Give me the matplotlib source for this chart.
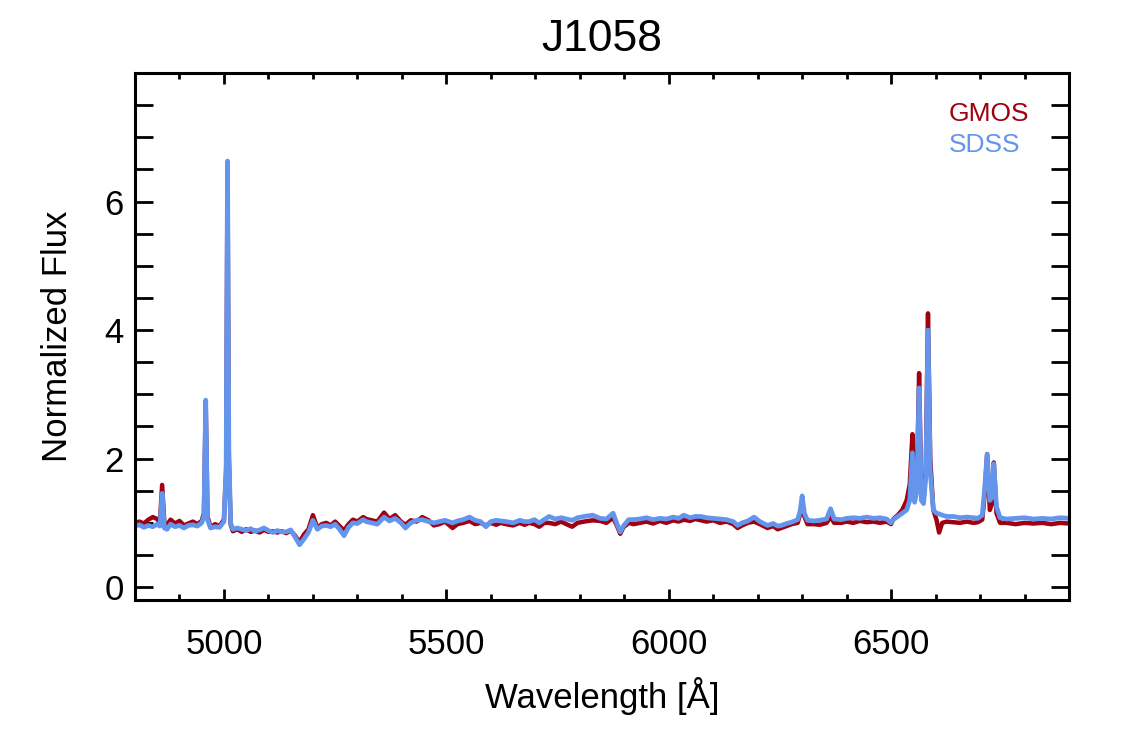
import matplotlib
matplotlib.use("Agg")
import matplotlib.pyplot as plt
from matplotlib.ticker import MultipleLocator

plt.rcParams['font.family'] = ['Liberation Sans', 'DejaVu Sans']

# wavelength grid [A] shared by both spectra
wave = [4800, 4810, 4820, 4830, 4840, 4850, 4856, 4861, 4866, 4872,
        4880, 4890, 4900, 4910, 4920, 4930, 4940, 4950, 4955, 4959,
        4963, 4970, 4980, 4990, 5000, 5005, 5008, 5011, 5015, 5020,
        5030, 5040, 5050, 5060, 5070, 5080, 5090, 5100, 5110, 5120,
        5130, 5140, 5150, 5160, 5170, 5180, 5190, 5200, 5210, 5220,
        5230, 5240, 5250, 5260, 5270, 5280, 5290, 5300, 5313, 5320,
        5332, 5345, 5360, 5372, 5385, 5398, 5408, 5420, 5433, 5446,
        5460, 5472, 5484, 5497, 5514, 5525, 5538, 5552, 5565, 5577,
        5589, 5600, 5612, 5622, 5634, 5650, 5665, 5676, 5686, 5698,
        5709, 5720, 5731, 5745, 5758, 5770, 5783, 5795, 5810, 5829,
        5846, 5860, 5875, 5884, 5891, 5898, 5910, 5921, 5935, 5950,
        5965, 5980, 5995, 6010, 6022, 6034, 6048, 6060, 6072, 6085,
        6100, 6115, 6130, 6145, 6155, 6165, 6178, 6192, 6205, 6222,
        6235, 6245, 6253, 6265, 6276, 6290, 6296, 6300, 6305, 6312,
        6327, 6340, 6355, 6364, 6372, 6388, 6400, 6415, 6430, 6445,
        6460, 6475, 6490, 6500, 6505, 6515, 6525, 6535, 6542, 6548,
        6553, 6558, 6563, 6568, 6573, 6578, 6583, 6588, 6595, 6602,
        6608, 6615, 6625, 6640, 6655, 6670, 6685, 6695, 6705, 6710,
        6716, 6722, 6727, 6731, 6737, 6745, 6760, 6780, 6800, 6820,
        6840, 6860, 6880, 6900]

gmos = [1.00, 1.02, 0.99, 1.05, 1.09, 1.06, 1.00, 1.59, 1.00, 0.97,
        1.05, 0.99, 1.03, 0.96, 0.99, 1.02, 0.98, 1.03, 1.15, 2.85,
        1.10, 0.93, 0.98, 0.95, 1.05, 1.80, 6.55, 2.00, 0.98, 0.87,
        0.90, 0.86, 0.90, 0.86, 0.88, 0.85, 0.89, 0.86, 0.87, 0.85,
        0.87, 0.84, 0.88, 0.80, 0.70, 0.82, 0.90, 1.12, 0.92, 0.98,
        1.00, 0.96, 1.02, 0.95, 0.88, 0.98, 1.05, 1.02, 1.09, 1.06,
        1.04, 1.02, 1.16, 1.06, 1.12, 1.02, 0.97, 1.04, 1.02, 1.09,
        1.04, 0.96, 0.98, 1.02, 0.92, 0.98, 1.00, 1.03, 0.98, 1.00,
        0.96, 1.00, 0.97, 1.00, 0.98, 0.96, 1.00, 0.97, 1.00, 0.98,
        0.94, 1.00, 1.00, 0.98, 1.02, 0.98, 0.94, 1.00, 1.02, 1.04,
        1.03, 1.00, 1.08, 0.95, 0.83, 0.93, 1.00, 0.98, 1.00, 1.02,
        0.99, 1.03, 1.00, 1.04, 1.02, 1.05, 1.03, 1.06, 1.04, 1.02,
        1.04, 1.00, 1.02, 0.98, 0.92, 0.96, 1.00, 1.02, 0.98, 0.92,
        0.95, 0.90, 0.92, 0.95, 0.98, 1.00, 1.15, 1.35, 1.10, 0.98,
        0.98, 0.97, 1.00, 1.10, 1.00, 1.00, 1.02, 1.00, 1.03, 1.01,
        1.02, 1.00, 1.02, 0.98, 1.06, 1.12, 1.20, 1.35, 1.60, 2.38,
        1.40, 1.60, 3.33, 1.45, 1.35, 1.80, 4.26, 2.00, 1.20, 1.05,
        0.85, 1.00, 1.02, 1.01, 1.00, 1.02, 1.00, 1.01, 1.05, 1.40,
        2.07, 1.20, 1.30, 1.94, 1.15, 1.00, 1.00, 0.98, 1.00, 0.99,
        1.00, 0.98, 1.00, 0.99]

sdss = [0.95, 0.97, 0.93, 0.96, 0.94, 0.98, 0.95, 1.46, 0.92, 0.90,
        0.98, 0.94, 0.96, 0.92, 0.96, 0.97, 0.95, 1.00, 1.10, 2.91,
        1.05, 0.92, 0.94, 0.93, 1.02, 1.90, 6.63, 2.10, 1.00, 0.90,
        0.92, 0.90, 0.88, 0.91, 0.87, 0.89, 0.92, 0.88, 0.85, 0.88,
        0.86, 0.86, 0.89, 0.78, 0.66, 0.75, 0.85, 1.04, 0.90, 0.95,
        0.96, 0.94, 0.98, 0.90, 0.80, 0.93, 1.00, 0.99, 1.05, 1.02,
        1.00, 0.98, 1.09, 1.03, 1.07, 1.00, 0.92, 1.00, 1.04, 1.05,
        1.02, 1.00, 1.02, 1.04, 1.00, 1.03, 1.05, 1.09, 1.04, 1.02,
        0.94, 1.02, 1.04, 1.03, 1.02, 1.00, 1.04, 1.02, 1.02, 1.05,
        1.00, 1.05, 1.10, 1.06, 1.08, 1.06, 1.04, 1.08, 1.10, 1.12,
        1.07, 1.06, 1.15, 0.98, 0.86, 0.95, 1.05, 1.05, 1.06, 1.08,
        1.05, 1.07, 1.06, 1.09, 1.07, 1.12, 1.08, 1.10, 1.10, 1.08,
        1.07, 1.06, 1.05, 1.02, 0.96, 1.00, 1.03, 1.09, 1.02, 0.96,
        0.99, 0.95, 0.96, 0.99, 1.01, 1.05, 1.20, 1.42, 1.15, 1.04,
        1.03, 1.04, 1.06, 1.22, 1.06, 1.05, 1.07, 1.08, 1.07, 1.09,
        1.07, 1.08, 1.06, 1.00, 1.05, 1.10, 1.15, 1.20, 1.35, 2.09,
        1.32, 1.50, 3.10, 1.35, 1.30, 1.70, 4.00, 1.80, 1.20, 1.15,
        1.14, 1.12, 1.10, 1.10, 1.08, 1.09, 1.08, 1.07, 1.12, 1.50,
        2.07, 1.35, 1.40, 1.92, 1.25, 1.08, 1.06, 1.07, 1.08, 1.06,
        1.07, 1.06, 1.08, 1.07]

gmos_color = '#A00010'
sdss_color = '#6495ED'

fig = plt.figure(figsize=(11.25, 7.5), dpi=100)
ax = fig.add_axes([0.12, 0.2, 0.8302, 0.7027])

ax.plot(wave, gmos, color=gmos_color, lw=3.2)
ax.plot(wave, sdss, color=sdss_color, lw=3.4)

ax.set_xlim(4800, 6900)
ax.set_ylim(-0.2, 8.0)
ax.xaxis.set_major_locator(MultipleLocator(500))
ax.xaxis.set_minor_locator(MultipleLocator(100))
ax.yaxis.set_major_locator(MultipleLocator(2))
ax.yaxis.set_minor_locator(MultipleLocator(0.5))
ax.set_yticks([0, 2, 4, 6])

for s in ax.spines.values():
    s.set_linewidth(2.2)
ax.tick_params(axis='both', which='both', direction='in', top=True, right=True,
               width=2.0, labelsize=25)
ax.tick_params(axis='x', which='major', length=8, pad=20)
ax.tick_params(axis='x', which='minor', length=4)
ax.tick_params(axis='y', which='both', length=13, pad=8)

ax.set_xlabel('Wavelength [Å]', fontsize=25, labelpad=12)
ax.set_ylabel('Normalized Flux', fontsize=25, labelpad=22)
ax.set_title('J1058', fontsize=32, pad=16)

ax.text(0.8715, 0.922, 'GMOS', color=gmos_color, fontsize=19,
        transform=ax.transAxes, ha='left', va='center')
ax.text(0.8715, 0.863, 'SDSS', color=sdss_color, fontsize=19,
        transform=ax.transAxes, ha='left', va='center')

fig.savefig('out.png', dpi=100)
